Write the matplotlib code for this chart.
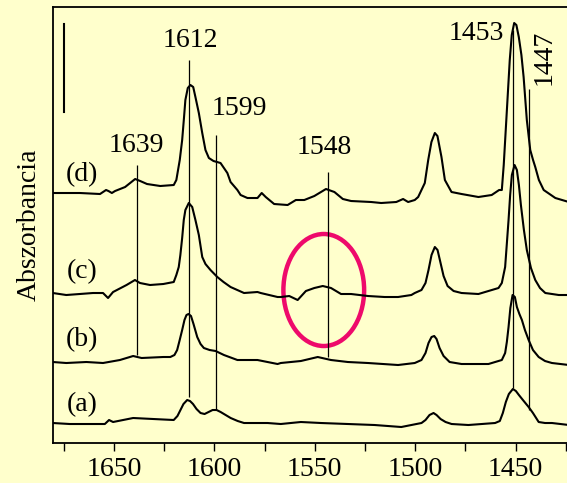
import matplotlib
matplotlib.use("Agg")
import matplotlib.pyplot as plt
from matplotlib.patches import Ellipse

plt.rcParams['font.family'] = ['Liberation Serif', 'DejaVu Serif']

# spectra: wavenumber (cm-1) and absorbance relative to each baseline
wn_a = [1680.4, 1672.0, 1663.7, 1654.5, 1652.4, 1650.4, 1640.4, 1630.4, 1620.2, 1618.35,
        1616.85, 1615.35, 1613.5, 1612.1, 1610.6, 1608.85, 1606.85, 1604.85, 1602.85, 1600.85,
        1598.85, 1596.85, 1594.35, 1591.85, 1588.35, 1585.2, 1573.5, 1566.9, 1556.9, 1546.9,
        1533.5, 1520.2, 1506.9, 1496.85, 1494.85, 1492.85, 1490.85, 1489.35, 1487.35, 1484.85,
        1481.85, 1473.5, 1460.2, 1457.85, 1456.35, 1454.85, 1453.35, 1451.35, 1449.85, 1448.35,
        1446.35, 1443.5, 1441.35, 1438.5, 1435.35, 1431.9, 1423.4]
abs_a = [0.00, -0.01, -0.01, -0.01, 0.03, 0.01, 0.05, 0.04, 0.03, 0.07,
         0.13, 0.19, 0.23, 0.22, 0.19, 0.14, 0.10, 0.09, 0.11, 0.13,
         0.13, 0.11, 0.08, 0.05, 0.02, 0.00, 0.00, -0.01, 0.01, 0.00,
         -0.01, -0.02, -0.04, 0.00, 0.03, 0.08, 0.10, 0.08, 0.04, 0.01,
         -0.01, -0.02, 0.00, 0.02, 0.10, 0.21, 0.29, 0.34, 0.32, 0.28,
         0.23, 0.16, 0.10, 0.01, 0.00, 0.00, -0.02]

wn_b = [1680.4, 1673.7, 1663.7, 1655.4, 1647.0, 1640.4, 1636.2, 1625.4, 1621.9, 1619.85,
        1618.5, 1617.35, 1616.0, 1614.85, 1613.85, 1612.85, 1611.6, 1610.35, 1608.5, 1606.85,
        1605.2, 1602.35, 1599.35, 1595.2, 1588.5, 1578.5, 1568.5, 1566.9, 1556.9, 1548.5,
        1541.9, 1533.5, 1523.5, 1508.5, 1500.2, 1496.85, 1494.85, 1493.35, 1491.85, 1490.5,
        1489.35, 1487.85, 1485.85, 1482.85, 1476.9, 1463.5, 1456.85, 1455.2, 1454.35, 1453.5,
        1452.6, 1451.5, 1450.35, 1449.35, 1448.1, 1446.85, 1445.35, 1443.5, 1441.35, 1438.5,
        1435.35, 1431.9, 1423.4]
abs_b = [0.01, 0.00, 0.01, 0.00, 0.03, 0.07, 0.05, 0.06, 0.06, 0.08,
         0.13, 0.22, 0.33, 0.43, 0.48, 0.49, 0.47, 0.39, 0.26, 0.19,
         0.15, 0.13, 0.12, 0.08, 0.03, 0.03, -0.01, 0.00, 0.02, 0.06,
         0.03, 0.01, 0.00, -0.02, 0.00, 0.03, 0.10, 0.20, 0.26, 0.27,
         0.24, 0.15, 0.07, 0.01, -0.01, -0.01, 0.03, 0.10, 0.21, 0.36,
         0.55, 0.68, 0.66, 0.56, 0.49, 0.43, 0.33, 0.23, 0.13, 0.06,
         0.02, 0.00, -0.02]

wn_c = [1680.4, 1673.7, 1667.0, 1660.4, 1655.4, 1652.9, 1650.4, 1643.7, 1639.5, 1637.0,
        1632.0, 1625.4, 1620.2, 1618.9, 1617.7, 1616.9, 1616.0, 1615.2, 1614.4, 1612.7,
        1611.0, 1609.4, 1607.7, 1606.0, 1604.4, 1601.9, 1598.5, 1595.4, 1591.9, 1585.2,
        1578.5, 1576.9, 1568.5, 1566.9, 1562.7, 1558.5, 1554.4, 1550.2, 1546.0, 1541.9,
        1536.9, 1531.9, 1523.5, 1515.2, 1508.5, 1501.9, 1500.2, 1496.85, 1494.85, 1493.35,
        1491.85, 1490.2, 1488.85, 1487.35, 1485.85, 1483.85, 1480.85, 1476.9, 1468.5, 1458.5,
        1456.85, 1455.2, 1454.4, 1453.5, 1452.7, 1451.85, 1450.5, 1449.35, 1448.35, 1447.35,
        1445.85, 1444.4, 1442.35, 1440.2, 1437.85, 1435.2, 1428.5, 1423.4]
abs_c = [0.00, -0.02, -0.01, 0.00, 0.00, -0.05, 0.01, 0.08, 0.13, 0.10,
         0.08, 0.09, 0.11, 0.18, 0.26, 0.38, 0.55, 0.73, 0.83, 0.90,
         0.86, 0.73, 0.58, 0.36, 0.29, 0.23, 0.16, 0.11, 0.06, 0.00,
         0.01, 0.00, -0.04, -0.04, -0.03, -0.07, 0.02, 0.05, 0.07, 0.05,
         -0.01, -0.01, -0.03, -0.04, -0.04, -0.02, 0.00, 0.03, 0.10, 0.23,
         0.38, 0.46, 0.43, 0.30, 0.17, 0.07, 0.02, 0.00, -0.01, 0.05,
         0.10, 0.26, 0.48, 0.73, 0.98, 1.18, 1.28, 1.23, 1.08, 0.88,
         0.63, 0.43, 0.25, 0.13, 0.05, 0.00, -0.02, -0.02]

wn_d = [1680.2, 1673.5, 1666.9, 1656.9, 1653.9, 1652.7, 1651.0, 1649.4, 1644.4, 1639.4,
        1636.9, 1633.5, 1626.9, 1620.2, 1618.9, 1617.2, 1616.0, 1615.1, 1614.4, 1613.2,
        1611.9, 1610.5, 1609.4, 1607.7, 1606.0, 1604.4, 1602.7, 1600.4, 1596.9, 1593.5,
        1591.9, 1588.5, 1586.9, 1583.5, 1578.5, 1576.4, 1574.4, 1570.2, 1563.5, 1559.4,
        1555.2, 1550.2, 1544.4, 1540.2, 1536.0, 1531.9, 1521.9, 1516.9, 1509.4, 1506.0,
        1503.5, 1500.2, 1498.5, 1495.2, 1493.5, 1491.9, 1490.2, 1488.9, 1486.9, 1485.2,
        1481.9, 1476.9, 1468.5, 1461.9, 1458.2, 1456.85, 1455.9, 1454.9, 1453.9, 1452.9,
        1451.9, 1450.7, 1449.6, 1448.4, 1447.1, 1446.0, 1444.4, 1442.7, 1441.3, 1440.2,
        1438.4, 1436.0, 1430.2, 1423.5]
abs_d = [0.00, 0.00, 0.00, -0.01, 0.03, 0.02, 0.00, 0.02, 0.06, 0.14,
         0.12, 0.09, 0.07, 0.08, 0.13, 0.33, 0.53, 0.75, 0.93, 1.05,
         1.08, 1.06, 0.96, 0.80, 0.60, 0.43, 0.35, 0.32, 0.30, 0.20,
         0.11, 0.03, -0.02, -0.05, -0.05, 0.00, -0.04, -0.11, -0.12, -0.07,
         -0.07, -0.03, 0.04, 0.01, -0.06, -0.08, -0.09, -0.10, -0.09, -0.06,
         -0.09, -0.07, -0.04, 0.10, 0.33, 0.51, 0.60, 0.57, 0.36, 0.13,
         0.01, -0.01, -0.04, -0.02, 0.03, 0.03, 0.28, 0.63, 0.98, 1.33,
         1.58, 1.70, 1.68, 1.56, 1.38, 1.16, 0.73, 0.43, 0.33, 0.26,
         0.13, 0.03, -0.05, -0.09]

spectra = [(wn_a, abs_a), (wn_b, abs_b), (wn_c, abs_c), (wn_d, abs_d)]
trace_names = ['(a)', '(b)', '(c)', '(d)']
offsets = [0.20, 0.80, 1.50, 2.50]
name_y = [0.38, 1.03, 1.71, 2.68]

# band markers: label, line position, line bottom, line top
band_labels = ['1639', '1612', '1599', '1548', '1453', '1447']
band_pos = [1638.7, 1612.35, 1599.0, 1543.5, 1451.35, 1443.35]
band_low = [0.88, 0.46, 0.33, 0.86, 0.55, 0.33]
band_high = [2.78, 3.83, 3.08, 2.71, 4.13, 3.54]

fig = plt.figure(figsize=(5.67, 4.83), dpi=100)
fig.patch.set_facecolor('#FFFFCC')
ax = fig.add_axes([0.0935, 0.0828, 0.9065, 0.9027])
ax.set_facecolor('#FFFFCC')

for (wn, ab), off in zip(spectra, offsets):
    ax.plot(wn, [v + off for v in ab], color='black', lw=1.5,
            solid_joinstyle='round')

for name, y in zip(trace_names, name_y):
    ax.text(1665.9, y, name, fontsize=20, ha='center', va='center')

ax.vlines(band_pos, band_low, band_high, color='black', lw=0.9)

# peak labels
ax.text(1611.9, 4.03, '1612', fontsize=20, ha='center', va='center')
ax.text(1587.6, 3.35, '1599', fontsize=20, ha='center', va='center')
ax.text(1638.9, 2.98, '1639', fontsize=20, ha='center', va='center')
ax.text(1545.3, 2.96, '1548', fontsize=20, ha='center', va='center')
ax.text(1469.4, 4.10, '1453', fontsize=20, ha='center', va='center')
ax.text(1435.6, 3.86, '1447', fontsize=20, ha='center', va='center', rotation=90)

# absorbance scale bar
ax.plot([1674.7, 1674.7], [3.31, 4.19], color='black', lw=1.5)

ax.add_patch(Ellipse((1545.5, 1.53), 40.2, 1.12, fill=False,
                     edgecolor='#EE0A6B', lw=3.2))

ax.set_xlim(1680.3, 1424.4)
ax.set_ylim(0, 4.36)
ax.set_xticks([1650, 1600, 1550, 1500, 1450])
ax.set_xticks([1675, 1625, 1575, 1525, 1475, 1425], minor=True)
ax.tick_params(axis='x', which='both', direction='out', length=6, width=1,
               labelsize=20, pad=4)
ax.set_yticks([])
ax.spines['right'].set_visible(False)
for s in ['left', 'bottom', 'top']:
    ax.spines[s].set_linewidth(1.3)
ax.set_ylabel('Abszorbancia', fontsize=20, labelpad=8)

fig.savefig('out.png', dpi=100, facecolor=fig.get_facecolor())
